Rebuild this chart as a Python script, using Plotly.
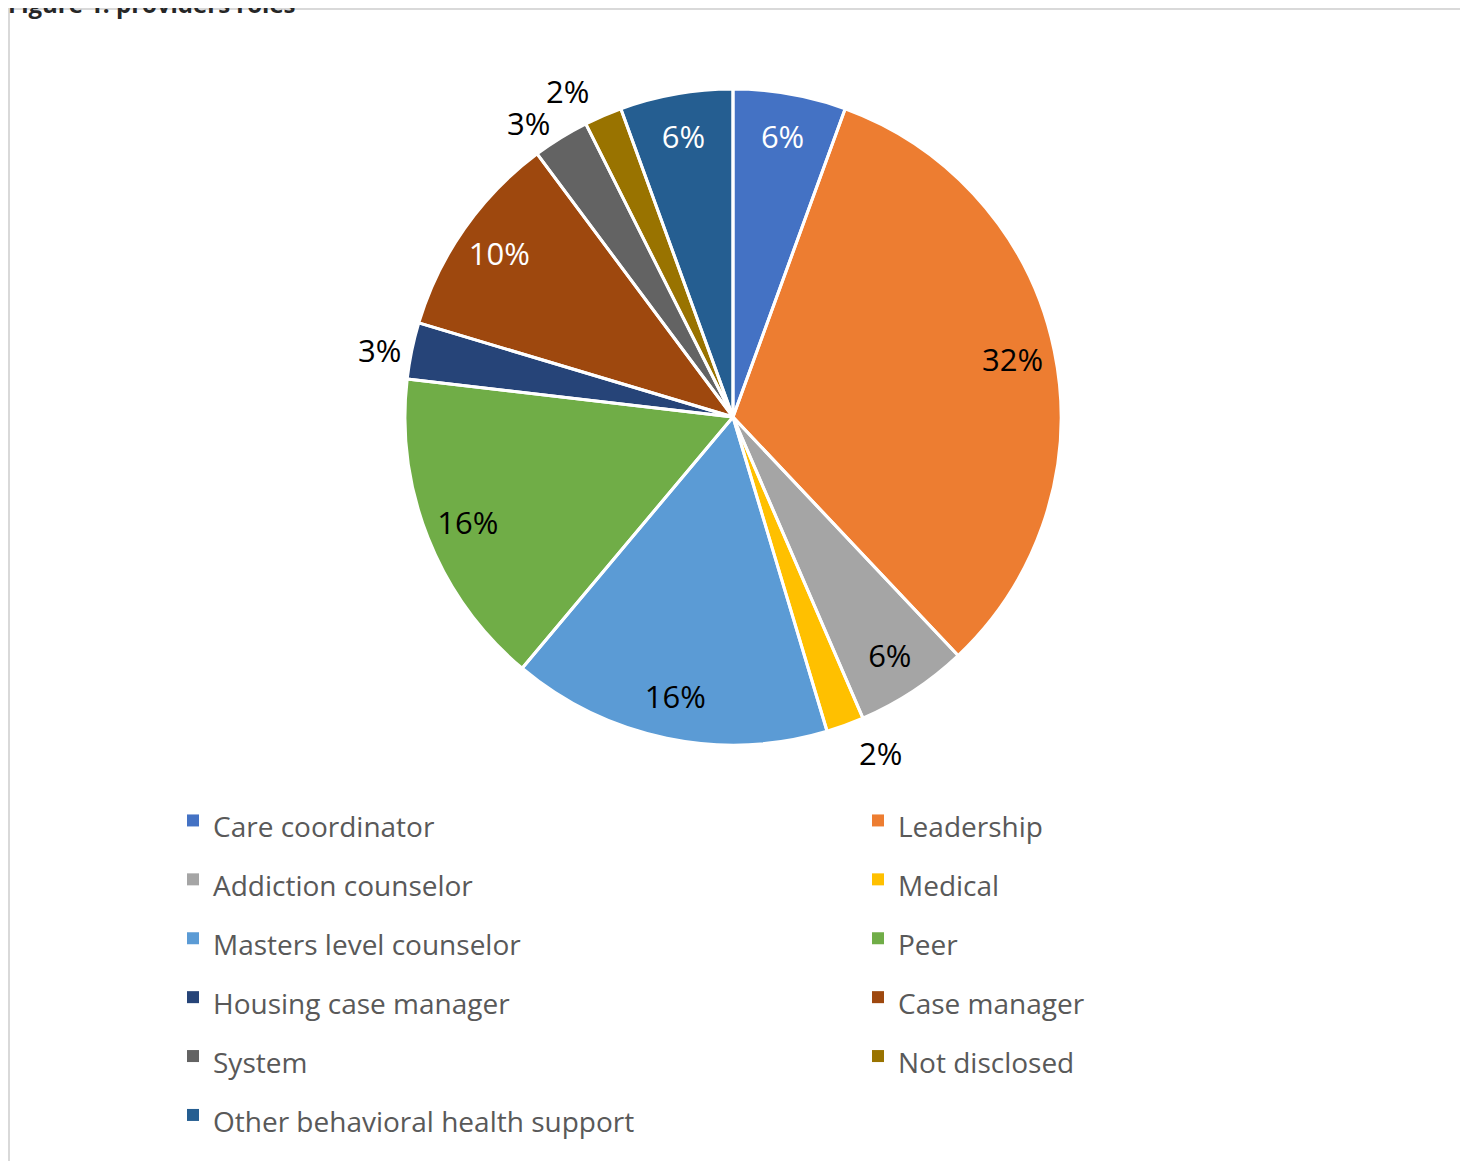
import plotly.graph_objects as go

# provider roles, counts (percent labels are rounded)
roles = ["Care coordinator", "Leadership", "Addiction counselor", "Medical",
         "Masters level counselor", "Peer", "Housing case manager", "Case manager",
         "System", "Not disclosed", "Other behavioral health support"]
counts = [6, 35, 6, 2, 17, 17, 3, 11, 3, 2, 6]
colors = ["#4472C4", "#ED7D31", "#A5A5A5", "#FFC000", "#5B9BD5", "#70AD47",
          "#264478", "#9E480E", "#636363", "#997300", "#255E91"]
label_pos = ["inside", "inside", "inside", "outside", "inside", "inside",
             "outside", "inside", "outside", "outside", "inside"]
label_col = ["white", "black", "black", "black", "black", "black",
             "black", "white", "black", "black", "white"]

W, H = 1468, 1161
FONT = "Open Sans"
OFF = 8  # the page body adds an 8px margin around the plot div

def px(x):
    return (x - OFF) / W

def py(y):
    return 1 - (y - OFF) / H

CX, CY, R = 733, 417, 328

def domain(r):
    return dict(x=[px(CX - r), px(CX + r)], y=[py(CY + r), py(CY - r)])

# legend rows are spaced wider than the text needs, so the legend font is big
# and the visible label text is set smaller in a span
legend_labels = [f"<span style='font-size:28px'>{r}</span>" for r in roles]

pct = "%{percent:.0%}"
clear = ["rgba(0,0,0,0)"] * len(counts)

fig = go.Figure()

fig.add_trace(go.Pie(
    labels=legend_labels, values=counts, sort=False,
    direction="clockwise", rotation=0, domain=domain(R),
    marker=dict(colors=colors, line=dict(width=0)),
    textinfo="none",
    hoverinfo="label+percent",
))

# white slice separators
fig.add_trace(go.Pie(
    labels=legend_labels, values=counts, sort=False,
    direction="clockwise", rotation=0, domain=domain(R),
    showlegend=False,
    marker=dict(colors=clear, line=dict(color="white", width=3)),
    textinfo="none",
    hoverinfo="skip",
))

# transparent rings that only carry the percent labels; each outside label
# that would collide gets its own ring so plotly does not add leader lines
label_groups = [
    (R, [r for r, p in zip(roles, label_pos) if p == "inside"]
        + ["Housing case manager", "System"]),
    (R + 10, ["Medical"]),
    (R + 8, ["Not disclosed"]),
]
for rad, shown in label_groups:
    fig.add_trace(go.Pie(
        labels=legend_labels, values=counts, sort=False,
        direction="clockwise", rotation=0, domain=domain(rad),
        hole=0.74 if rad == R else 0.9,
        showlegend=False,
        marker=dict(colors=clear, line=dict(width=0)),
        texttemplate=[pct if r in shown else "" for r in roles],
        textposition=label_pos,
        insidetextorientation="horizontal",
        insidetextfont=dict(family=FONT, size=31, color=label_col),
        outsidetextfont=dict(family=FONT, size=31, color="black"),
        hoverinfo="skip",
    ))

fig.update_layout(
    width=W,
    height=H,
    margin=dict(l=0, r=0, t=0, b=0, autoexpand=False),
    paper_bgcolor="white",
    plot_bgcolor="white",
    font=dict(family=FONT),
    showlegend=True,
    legend=dict(
        orientation="h",
        x=px(173), xanchor="left",
        y=py(786), yanchor="top",
        entrywidth=640,
        font=dict(family=FONT, size=43, color="#595959"),
        bgcolor="rgba(0,0,0,0)",
        traceorder="normal",
    ),
    shapes=[dict(type="rect", xref="paper", yref="paper",
                 x0=px(9), x1=px(1461), y0=py(1180), y1=py(9),
                 line=dict(color="#D9D9D9", width=2))],
    annotations=[dict(text="<b>Figure 1: providers roles</b>", xref="paper", yref="paper",
                      x=px(6), y=py(22), xanchor="left", yanchor="bottom",
                      showarrow=False, font=dict(family=FONT, size=24, color="#262626"))],
)

fig.write_html("out.html")
